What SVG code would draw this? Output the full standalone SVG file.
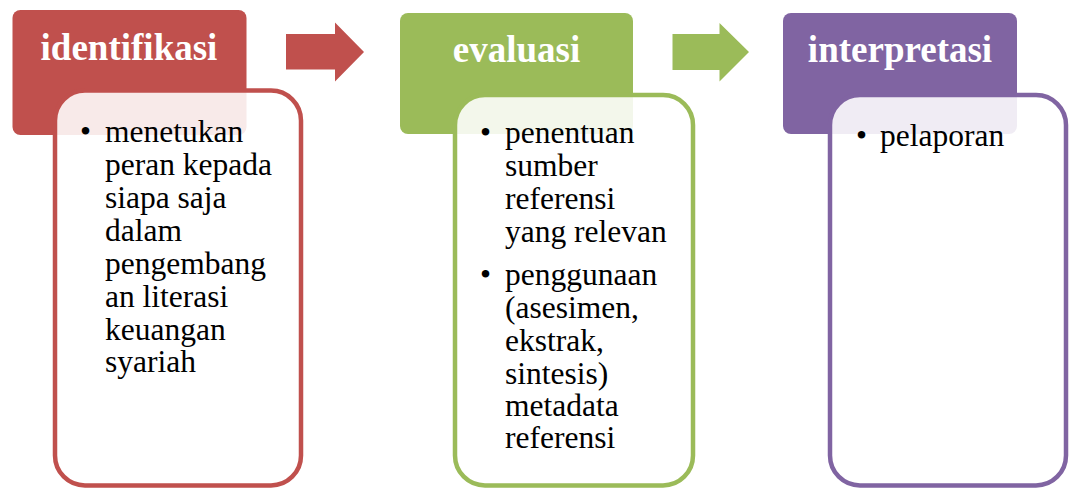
<svg xmlns="http://www.w3.org/2000/svg" width="1070" height="489" viewBox="0 0 1070 489">
<style>
.hdr{font-family:'Liberation Serif',Tinos,Times,'DejaVu Serif',serif;font-weight:bold;font-size:37px;fill:#fff;text-anchor:middle}
.txt{font-family:'Liberation Serif',Tinos,Times,'DejaVu Serif',serif;font-size:31.5px;fill:#000}
.body{fill:#fff;fill-opacity:0.88;stroke-width:4.5}
</style>
<rect width="1070" height="489" fill="#fff"/>
<g id="connectors">
<polygon points="286,34 335,34 335,22.5 364,52 335,81.5 335,69.5 286,69.5" fill="#c0504d"/>
<polygon points="672.5,34 719.5,34 719.5,23 749,52 719.5,81.5 719.5,70 672.5,70" fill="#9bbb59"/>
</g>
<g id="identifikasi">
<rect x="12.5" y="10" width="234" height="125" rx="8" fill="#c0504d"/>
<text class="hdr" x="129" y="60">identifikasi</text>
<rect class="body" x="55" y="90.5" width="246" height="395" rx="30" stroke="#c0504d"/>
<text class="txt"><tspan x="80" y="141.5">•</tspan><tspan x="105" y="141.5">menetukan</tspan><tspan x="105" y="174.5">peran kepada</tspan><tspan x="105" y="207.5">siapa saja</tspan><tspan x="105" y="240.5">dalam</tspan><tspan x="105" y="273.5">pengembang</tspan><tspan x="105" y="306.5">an literasi</tspan><tspan x="105" y="339.5">keuangan</tspan><tspan x="105" y="372">syariah</tspan></text>
</g>
<g id="evaluasi">
<rect x="400" y="13" width="233" height="121" rx="8" fill="#9bbb59"/>
<text class="hdr" x="516.5" y="62">evaluasi</text>
<rect class="body" x="455" y="95" width="238" height="390.5" rx="30" stroke="#9bbb59"/>
<text class="txt"><tspan x="480" y="143">•</tspan><tspan x="505" y="143">penentuan</tspan><tspan x="505" y="176">sumber</tspan><tspan x="505" y="209">referensi</tspan><tspan x="505" y="242">yang relevan</tspan><tspan x="480" y="285">•</tspan><tspan x="505" y="285">penggunaan</tspan><tspan x="505" y="318">(asesimen,</tspan><tspan x="505" y="351">ekstrak,</tspan><tspan x="505" y="384">sintesis)</tspan><tspan x="505" y="416">metadata</tspan><tspan x="505" y="448">referensi</tspan></text>
</g>
<g id="interpretasi">
<rect x="783" y="13" width="234" height="121" rx="8" fill="#8064a2"/>
<text class="hdr" x="900" y="62">interpretasi</text>
<rect class="body" x="830" y="95" width="236" height="390.5" rx="30" stroke="#8064a2"/>
<text class="txt"><tspan x="856" y="146">•</tspan><tspan x="880" y="146">pelaporan</tspan></text>
</g>
</svg>
